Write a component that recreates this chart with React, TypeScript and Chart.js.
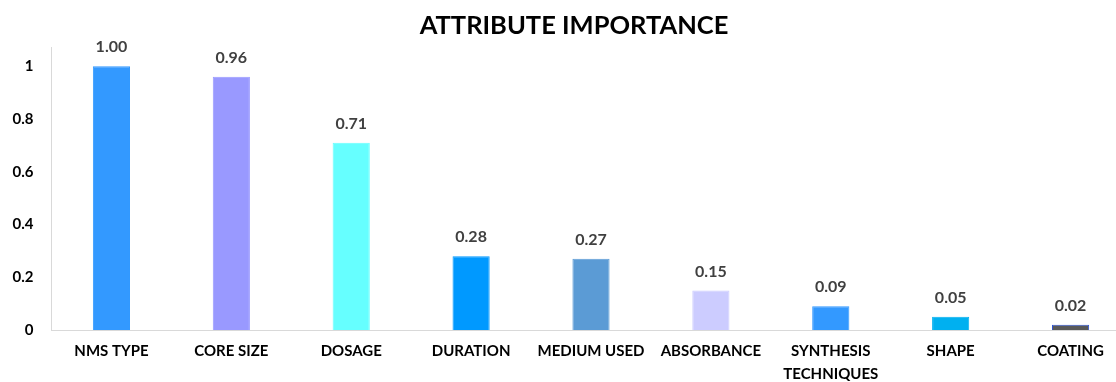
import React, { useEffect, useRef } from "react";
import { Chart, registerables } from "chart.js";

Chart.register(...registerables);

const categories: (string | string[])[] = [
  "NMS TYPE",
  "CORE SIZE",
  "DOSAGE",
  "DURATION",
  "MEDIUM USED",
  "ABSORBANCE",
  ["SYNTHESIS", "TECHNIQUES"],
  "SHAPE",
  "COATING",
];
const importance: number[] = [1.0, 0.96, 0.71, 0.28, 0.27, 0.15, 0.09, 0.05, 0.02];
const barColors: string[] = [
  "#3399FF",
  "#9999FF",
  "#66FFFF",
  "#0099FF",
  "#5B9BD5",
  "#CCCCFF",
  "#3399FF",
  "#00B0F0",
  "#595959",
];
const barBorders: string[] = [
  "#3399FF",
  "#9999FF",
  "#66FFFF",
  "#0099FF",
  "#5B9BD5",
  "#CCCCFF",
  "#3399FF",
  "#00B0F0",
  "#2F55D4",
];
const yTicks: number[] = [0, 0.2, 0.4, 0.6, 0.8, 1];

const FONT = "Lato, 'Open Sans', sans-serif";

const valueLabels = {
  id: "valueLabels",
  afterDatasetsDraw(chart: any) {
    const ctx = chart.ctx;
    const meta = chart.getDatasetMeta(0);
    ctx.save();
    ctx.font = `bold 16px ${FONT}`;
    ctx.fillStyle = "#404040";
    ctx.textAlign = "center";
    ctx.textBaseline = "middle";
    meta.data.forEach((bar: any, i: number) => {
      ctx.fillText(importance[i].toFixed(2), bar.x, bar.y - 19);
    });
    ctx.restore();
  },
};

export default function App() {
  const ref = useRef<HTMLCanvasElement | null>(null);

  useEffect(() => {
    document.body.style.margin = "0";
    document.body.style.overflow = "hidden";
    if (!ref.current) return;
    const chart = new Chart(ref.current, {
      type: "bar",
      data: {
        labels: categories,
        datasets: [
          {
            data: importance,
            backgroundColor: barColors,
            borderColor: barBorders,
            borderWidth: 1,
            barPercentage: 0.31,
            categoryPercentage: 1,
            yAxisID: "y",
          },
        ],
      },
      options: {
        animation: false,
        responsive: true,
        maintainAspectRatio: false,
        layout: { padding: 0 },
        plugins: {
          legend: { display: false },
          tooltip: { enabled: false },
          title: {
            display: true,
            text: "ATTRIBUTE IMPORTANCE",
            color: "#000000",
            font: { family: FONT, size: 25.5, weight: "bold", lineHeight: 1.2 },
            padding: { top: 10, bottom: 6.6 },
          },
        },
        scales: {
          x: {
            grid: { display: false, drawTicks: false },
            border: { display: true, color: "#d9d9d9", width: 1 },
            ticks: {
              color: "#000000",
              font: { family: FONT, size: 15, weight: "bold", lineHeight: 1.5 },
              padding: 10,
              maxRotation: 0,
              autoSkip: false,
            },
            afterFit: (scale: any) => {
              scale.height = 52;
            },
          },
          y: {
            min: 0,
            max: 1.072,
            grid: { display: false, drawTicks: false },
            border: { display: true, color: "#d9d9d9", width: 1 },
            afterBuildTicks: (scale: any) => {
              scale.ticks = yTicks.map((v) => ({ value: v }));
            },
            ticks: {
              color: "#000000",
              font: { family: FONT, size: 15, weight: "bold" },
              padding: 18,
              callback: (v: any) => String(Math.round(Number(v) * 10) / 10),
            },
            afterFit: (scale: any) => {
              scale.width = 51.5;
            },
          },
          yRight: {
            position: "right",
            min: 0,
            max: 1,
            grid: { display: false, drawTicks: false },
            border: { display: false },
            ticks: { display: false },
            afterFit: (scale: any) => {
              scale.width = 17.5;
            },
          },
        },
      },
      plugins: [valueLabels],
    });
    return () => chart.destroy();
  }, []);

  return (
    <div style={{ width: "1148px", height: "382px", position: "relative" }}>
      <canvas ref={ref} />
    </div>
  );
}
